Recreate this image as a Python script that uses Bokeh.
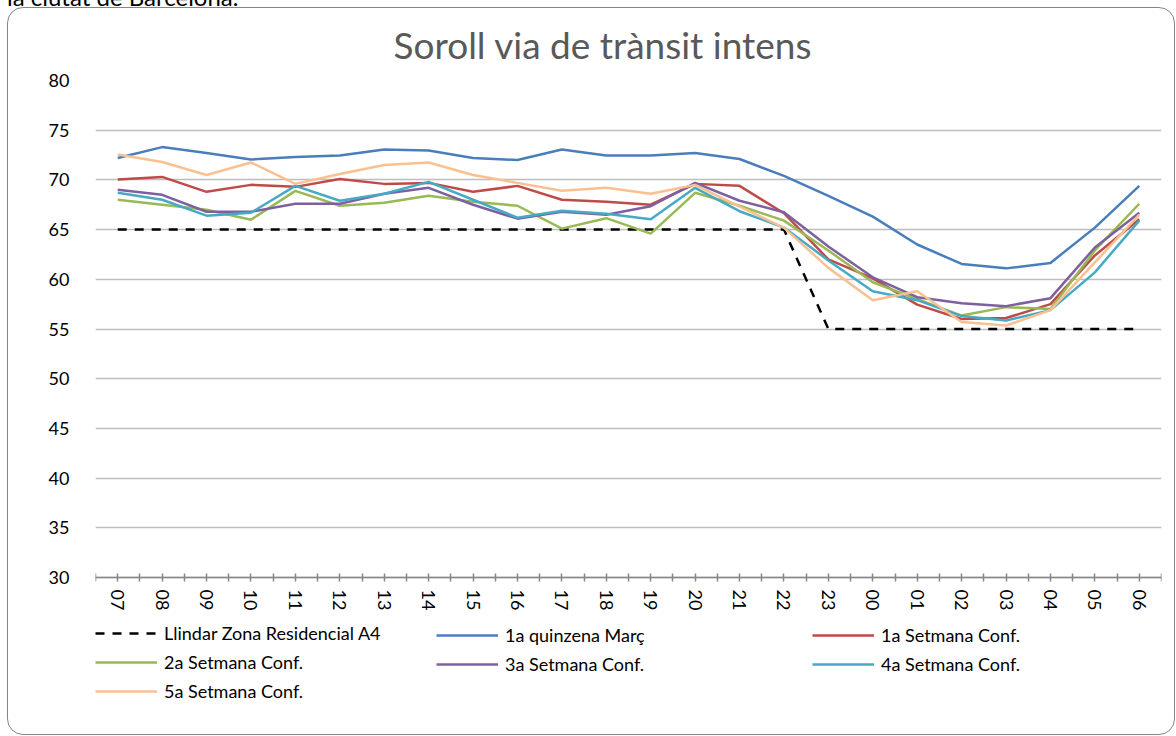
from bokeh.plotting import figure
from bokeh.models import (Range1d, FixedTicker, Legend, LegendItem, Div)
from bokeh.embed import file_html
from bokeh.resources import INLINE

hours = ["07", "08", "09", "10", "11", "12", "13", "14", "15", "16", "17", "18",
         "19", "20", "21", "22", "23", "00", "01", "02", "03", "04", "05", "06"]

llindar = [65, 65, 65, 65, 65, 65, 65, 65, 65, 65, 65, 65,
           65, 65, 65, 65, 55, 55, 55, 55, 55, 55, 55, 55]
quinzena_marc = [72.2, 73.3, 72.7, 72.05, 72.3, 72.45, 73.05, 72.95, 72.2, 72.0, 73.05, 72.45,
                 72.45, 72.7, 72.1, 70.4, 68.4, 66.3, 63.5, 61.55, 61.1, 61.65, 65.2, 69.4]
setmana1 = [70.05, 70.3, 68.8, 69.5, 69.3, 70.1, 69.6, 69.7, 68.8, 69.4, 68.0, 67.8,
            67.5, 69.6, 69.4, 66.65, 62.0, 60.1, 57.45, 56.0, 56.1, 57.5, 62.4, 66.05]
setmana2 = [68.0, 67.5, 67.0, 66.0, 68.9, 67.4, 67.7, 68.4, 67.8, 67.4, 65.1, 66.15,
            64.6, 68.7, 67.4, 65.9, 62.9, 59.7, 58.0, 56.35, 57.2, 57.0, 62.9, 67.6]
setmana3 = [69.0, 68.5, 66.8, 66.8, 67.6, 67.6, 68.6, 69.2, 67.5, 66.1, 66.8, 66.5,
            67.35, 69.7, 67.9, 66.75, 63.3, 60.2, 58.2, 57.6, 57.3, 58.1, 63.2, 66.7]
setmana4 = [68.7, 68.0, 66.4, 66.7, 69.4, 67.9, 68.6, 69.8, 68.0, 66.2, 66.9, 66.6,
            66.05, 69.2, 66.85, 65.2, 61.9, 58.8, 57.9, 56.3, 55.85, 56.9, 60.7, 65.9]
setmana5 = [72.55, 71.8, 70.5, 71.75, 69.6, 70.6, 71.5, 71.75, 70.5, 69.7, 68.9, 69.2,
            68.6, 69.5, 67.3, 65.2, 61.15, 57.9, 58.8, 55.7, 55.35, 56.9, 61.7, 66.5]

series_names = ["Llindar Zona Residencial A4", "1a quinzena Març", "1a Setmana Conf.",
                "2a Setmana Conf.", "3a Setmana Conf.", "4a Setmana Conf.", "5a Setmana Conf."]
series_values = [llindar, quinzena_marc, setmana1, setmana2, setmana3, setmana4, setmana5]
series_colors = ["#000000", "#4A7EBB", "#BE4B48", "#98B954", "#7D60A0", "#46AAC5", "#FAC090"]

y_ticks = [30, 35, 40, 45, 50, 55, 60, 65, 70, 75, 80]

FONT = "Lato"
x = list(range(len(hours)))

# frame: page y 80 (value 80) .. 702; value 30 at page 577 -> 9.94 px per unit
Y_BOTTOM = 30 - (702 - 577) / 9.94

p = figure(width=1176, height=736, output_backend="svg", toolbar_location=None,
           x_range=Range1d(-0.5, len(hours) - 0.5), y_range=Range1d(Y_BOTTOM, 80),
           min_border_left=95, min_border_right=15, min_border_top=80, min_border_bottom=34)
p.outline_line_color = None
p.background_fill_color = "white"
p.border_fill_color = "white"

# title
p.title.text = "Soroll via de trànsit intens"
p.title.align = "left"
p.title.offset = 298
p.title.standoff = 28
p.title.text_font = FONT
p.title.text_font_size = "37px"
p.title.text_font_style = "normal"
p.title.text_color = "#595959"

# axes
p.yaxis.ticker = FixedTicker(ticks=y_ticks)
p.yaxis.axis_line_color = None
p.yaxis.major_tick_line_color = None
p.yaxis.minor_tick_line_color = None
p.yaxis.major_label_standoff = 20
p.yaxis.major_label_text_font = FONT
p.yaxis.major_label_text_font_size = "18px"
p.yaxis.major_label_text_color = "#000000"

xt = [i * 0.5 - 0.5 for i in range(2 * len(hours) + 1)]
p.xaxis.ticker = FixedTicker(ticks=xt)
overrides = {}
for t in xt:
    if float(t).is_integer():
        overrides[t] = hours[int(t)]
    else:
        overrides[t] = ""
p.xaxis.major_label_overrides = overrides
p.xaxis.fixed_location = 30
p.xaxis.major_label_orientation = "vertical"
p.xaxis.axis_line_color = "#868686"
p.xaxis.axis_line_width = 1.5
p.xaxis.major_tick_line_color = "#868686"
p.xaxis.major_tick_line_width = 1.5
p.xaxis.major_tick_in = 4
p.xaxis.major_tick_out = 4
p.xaxis.minor_tick_line_color = None
p.xaxis.major_label_standoff = 8
p.xaxis.major_label_text_font = FONT
p.xaxis.major_label_text_font_size = "18px"
p.xaxis.major_label_text_color = "#000000"

p.xgrid.grid_line_color = None
p.ygrid.ticker = FixedTicker(ticks=y_ticks)
p.ygrid.grid_line_color = "#BDBDBD"
p.ygrid.grid_line_width = 1.5

items = []
for name, vals, col in zip(series_names, series_values, series_colors):
    if name.startswith("Llindar"):
        r = p.line(x, vals, line_color=col, line_width=2.5, line_dash="9 8")
    else:
        r = p.line(x, vals, line_color=col, line_width=2.5)
    items.append(LegendItem(label=name, renderers=[r]))

# three legend columns, row-major like the original (top y = 74 px above frame bottom)
columns = [[items[0], items[3], items[6]], [items[1], items[4]], [items[2], items[5]]]
col_x = [0, 341, 717]
for its, cx in zip(columns, col_x):
    h = len(its) * 20 + (len(its) - 1) * 7
    lg = Legend(items=its, location=(cx, 74 - h), orientation="vertical",
                glyph_width=62, glyph_height=20, label_height=20,
                label_standoff=7, spacing=7, padding=0, margin=0,
                border_line_color=None, background_fill_alpha=0,
                label_text_font=FONT, label_text_font_size="18px",
                label_text_color="#000000")
    p.add_layout(lg)

frame_box = Div(text="", width=1168, height=728, margin=0,
                styles={"position": "absolute", "left": "7px", "top": "7px",
                        "border": "1.5px solid #868686", "border-radius": "16px",
                        "pointer-events": "none", "box-sizing": "border-box"})
top_text = Div(text="la ciutat de Barcelona.", width=320, height=26, margin=0,
               styles={"position": "absolute", "left": "7px", "top": "-15px",
                       "font-family": "Lato", "font-size": "24px", "line-height": "24px",
                       "color": "#000000", "white-space": "nowrap"})

open("out.html", "w").write(file_html([p, frame_box, top_text], INLINE))
